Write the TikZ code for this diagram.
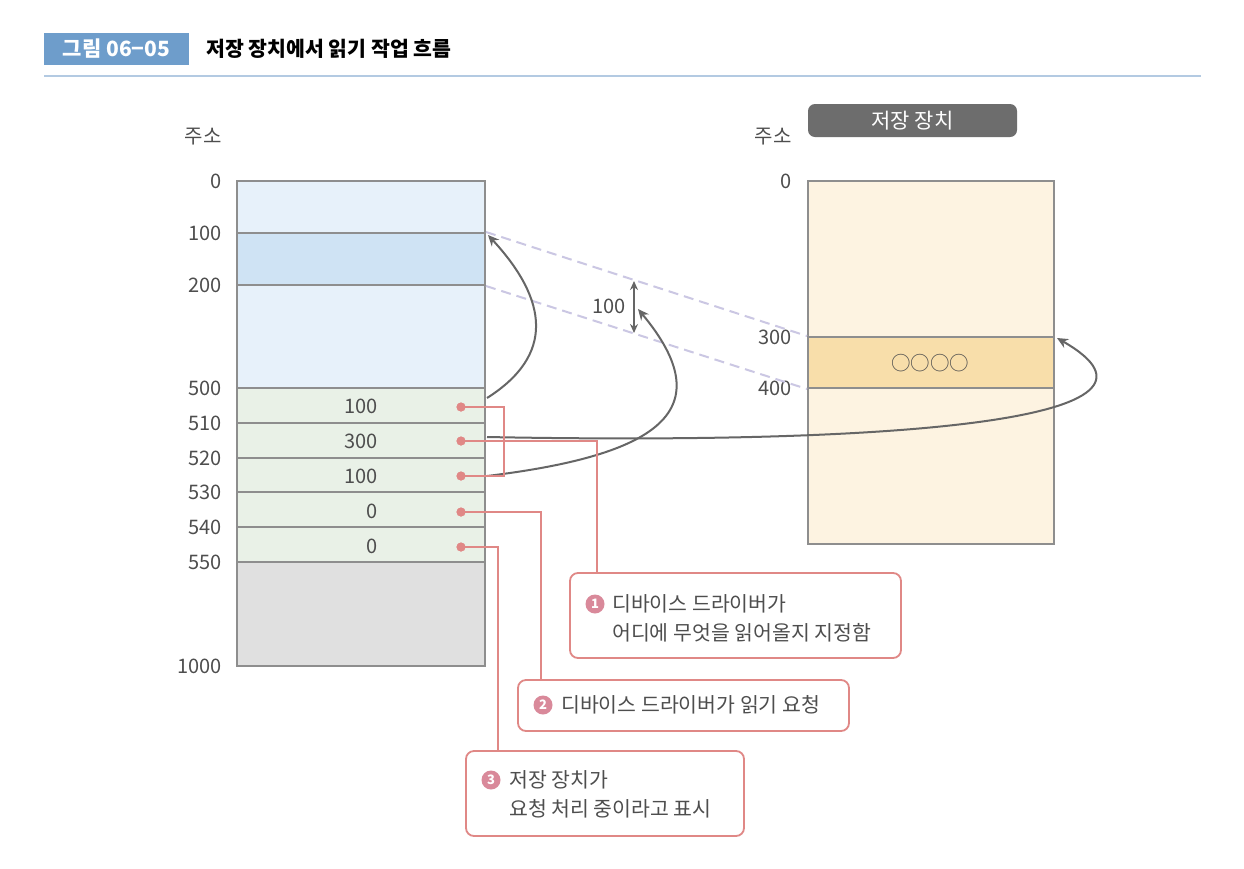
\documentclass[tikz,border=0pt]{standalone}
\usepackage{fontspec}
\setmainfont{Noto Sans CJK KR}
\usetikzlibrary{arrows.meta}
\definecolor{hdrblue}{HTML}{6E9DCB}
\definecolor{rule}{HTML}{B3CAE2}
\definecolor{cellline}{HTML}{8E8E8E}
\definecolor{lblue}{HTML}{E7F1FA}
\definecolor{dblue}{HTML}{CFE3F4}
\definecolor{lgreen}{HTML}{E9F1E7}
\definecolor{lgrey}{HTML}{E0E0E0}
\definecolor{lcream}{HTML}{FDF3E1}
\definecolor{dcream}{HTML}{F8DEAA}
\definecolor{txt}{HTML}{4E4E4E}
\definecolor{salmon}{HTML}{E08886}
\definecolor{pinknum}{HTML}{D9899A}
\definecolor{arrgrey}{HTML}{666666}
\definecolor{lav}{HTML}{CBC7E3}
\definecolor{darkhdr}{HTML}{6D6D6D}
\tikzset{
  cell/.style={draw=cellline, line width=2pt, minimum width=248pt, inner sep=0pt},
  scell/.style={draw=cellline, line width=2pt, minimum width=246pt, inner sep=0pt},
  lbl/.style={text=txt, font=\fontsize{20}{23}\selectfont, inner sep=0pt},
  val/.style={text=txt, font=\fontsize{20}{23}\selectfont, inner sep=0pt, anchor=east},
  dot/.style={circle, fill=salmon, inner sep=0pt, minimum size=9pt},
  redline/.style={draw=salmon, line width=1.6pt},
  callout/.style={draw=salmon, line width=1.8pt, rounded corners=8pt, fill=white, inner sep=0pt},
  ctext/.style={text=txt, font=\fontsize{20.5}{29}\selectfont, inner sep=0pt, anchor=west, align=left},
  numc/.style={circle, fill=pinknum, text=white, inner sep=0pt, minimum size=19pt, font=\bfseries\fontsize{13}{13}\selectfont},
  arr/.style={draw=arrgrey, line width=2pt, -{Stealth[length=11pt, width=10pt]}},
  dash line/.style={draw=lav, line width=2pt, dash pattern=on 10pt off 6pt}
}
\begin{document}
\begin{tikzpicture}[x=1pt,y=-1pt]
\useasboundingbox[fill=white] (0,0) rectangle (1244,868);

% header
\node[fill=hdrblue, minimum width=145pt, minimum height=32pt, inner sep=0pt, text=white, font=\bfseries\fontsize{21}{24}\selectfont] (fig) at (116.5,49) {그림 06−05};
\node[anchor=west, inner sep=0pt, font=\bfseries\fontsize{20.5}{24}\selectfont] (title) at (206,49) {저장 장치에서 읽기 작업 흐름};
\draw[rule, line width=1.5pt] (44,76) -- (1201,76);

% memory
\node[lbl] (addrL) at (203,137) {주소};
\node[cell, fill=lblue, minimum height=52pt] (m0) at (361,207) {};
\node[cell, fill=dblue, minimum height=52pt] (m1) at (361,259) {};
\node[cell, fill=lblue, minimum height=103pt] (m2) at (361,336.5) {};
\node[cell, fill=lgreen, minimum height=35pt] (r1) at (361,405.5) {};
\node[cell, fill=lgreen, minimum height=35pt] (r2) at (361,440.5) {};
\node[cell, fill=lgreen, minimum height=34pt] (r3) at (361,475) {};
\node[cell, fill=lgreen, minimum height=35pt] (r4) at (361,509.5) {};
\node[cell, fill=lgreen, minimum height=35pt] (r5) at (361,544.5) {};
\node[cell, fill=lgrey, minimum height=104pt] (m3) at (361,614) {};

\foreach \t/\y in {0/181,100/233,200/285,500/388,510/423,520/458,530/492,540/527,550/562,1000/666}
  \node[val] at (222,\y) {\t};

\node[val] (v1) at (378,406) {100};
\node[val] (v2) at (378,441) {300};
\node[val] (v3) at (378,476) {100};
\node[val] (v4) at (378,511) {0};
\node[val] (v5) at (378,546) {0};

% storage
\node[fill=darkhdr, rounded corners=7pt, minimum width=209pt, minimum height=33pt, inner sep=0pt, text=white, font=\fontsize{21}{24}\selectfont] (sthdr) at (912.5,120.5) {저장 장치};
\node[lbl] (addrR) at (773,137) {주소};
\node[scell, fill=lcream, minimum height=156pt] (s0) at (931,259) {};
\node[scell, fill=dcream, minimum height=51pt] (s1) at (931,362.5) {};
\node[scell, fill=lcream, minimum height=156pt] (s2) at (931,466) {};
\node[text=txt, inner sep=0pt, font=\fontsize{19.5}{22}\selectfont] (oooo) at (930,363) {○○○○};
\node[val] at (792,181) {0};
\node[val] at (792,337) {300};
\node[val] at (792,388) {400};

% dashed mapping lines
\draw[dash line] (m1.north east) -- (s1.north west);
\draw[dash line] (m1.south east) -- (s1.south west);

% size arrow
\coordinate (sz1) at (634,281);
\coordinate (sz2) at (634,333);
\draw[draw=arrgrey, line width=1.6pt, {Stealth[length=9pt,width=8pt]}-{Stealth[length=9pt,width=8pt]}] (sz1) -- (sz2);
\node[lbl] (szl) at (609,306) {100};

% curved arrows
\coordinate (a1s) at (487,398);
\coordinate (a1e) at (488,235);
\draw[arr] (a1s) .. controls (555,355) and (548,300) .. (a1e);
\coordinate (a2s) at (487,476);
\coordinate (a2e) at (638,309);
\draw[arr] (a2s) .. controls (660,455) and (722,410) .. (a2e);
\coordinate (a3s) at (487,437);
\coordinate (a3e) at (1057,338);
\draw[arr] (a3s) .. controls (900,445) and (1200,420) .. (a3e);

% callouts
\node[callout, minimum width=331pt, minimum height=85pt] (b1) at (735.5,615.5) {};
\node[callout, minimum width=331pt, minimum height=51pt] (b2) at (683.5,705.5) {};
\node[callout, minimum width=278pt, minimum height=85pt] (b3) at (605,793.5) {};

\node[numc] (n1) at (595,604) {1};
\node[ctext] (t1) at (612,618.5) {디바이스 드라이버가\\어디에 무엇을 읽어올지 지정함};
\node[numc] (n2) at (543,705) {2};
\node[ctext] (t2) at (561,705) {디바이스 드라이버가 읽기 요청};
\node[numc] (n3) at (491,780) {3};
\node[ctext] (t3) at (509,794.5) {저장 장치가\\요청 처리 중이라고 표시};

% red connectors
\node[dot] (d1) at (461,407) {};
\node[dot] (d2) at (461,441) {};
\node[dot] (d3) at (461,476) {};
\node[dot] (d4) at (461,512) {};
\node[dot] (d5) at (461,547) {};
\coordinate (c1) at (597,573);
\coordinate (c2) at (541,680);
\coordinate (c3) at (498,751);
\draw[redline] (d1.center) -- ++(43,0) |- (d3.center);
\draw[redline] (d2.center) -| (c1);
\draw[redline] (d4.center) -| (c2);
\draw[redline] (d5.center) -| (c3);
\foreach \d in {d1,d2,d3,d4,d5} \node[dot] at (\d) {};
\end{tikzpicture}
\end{document}
